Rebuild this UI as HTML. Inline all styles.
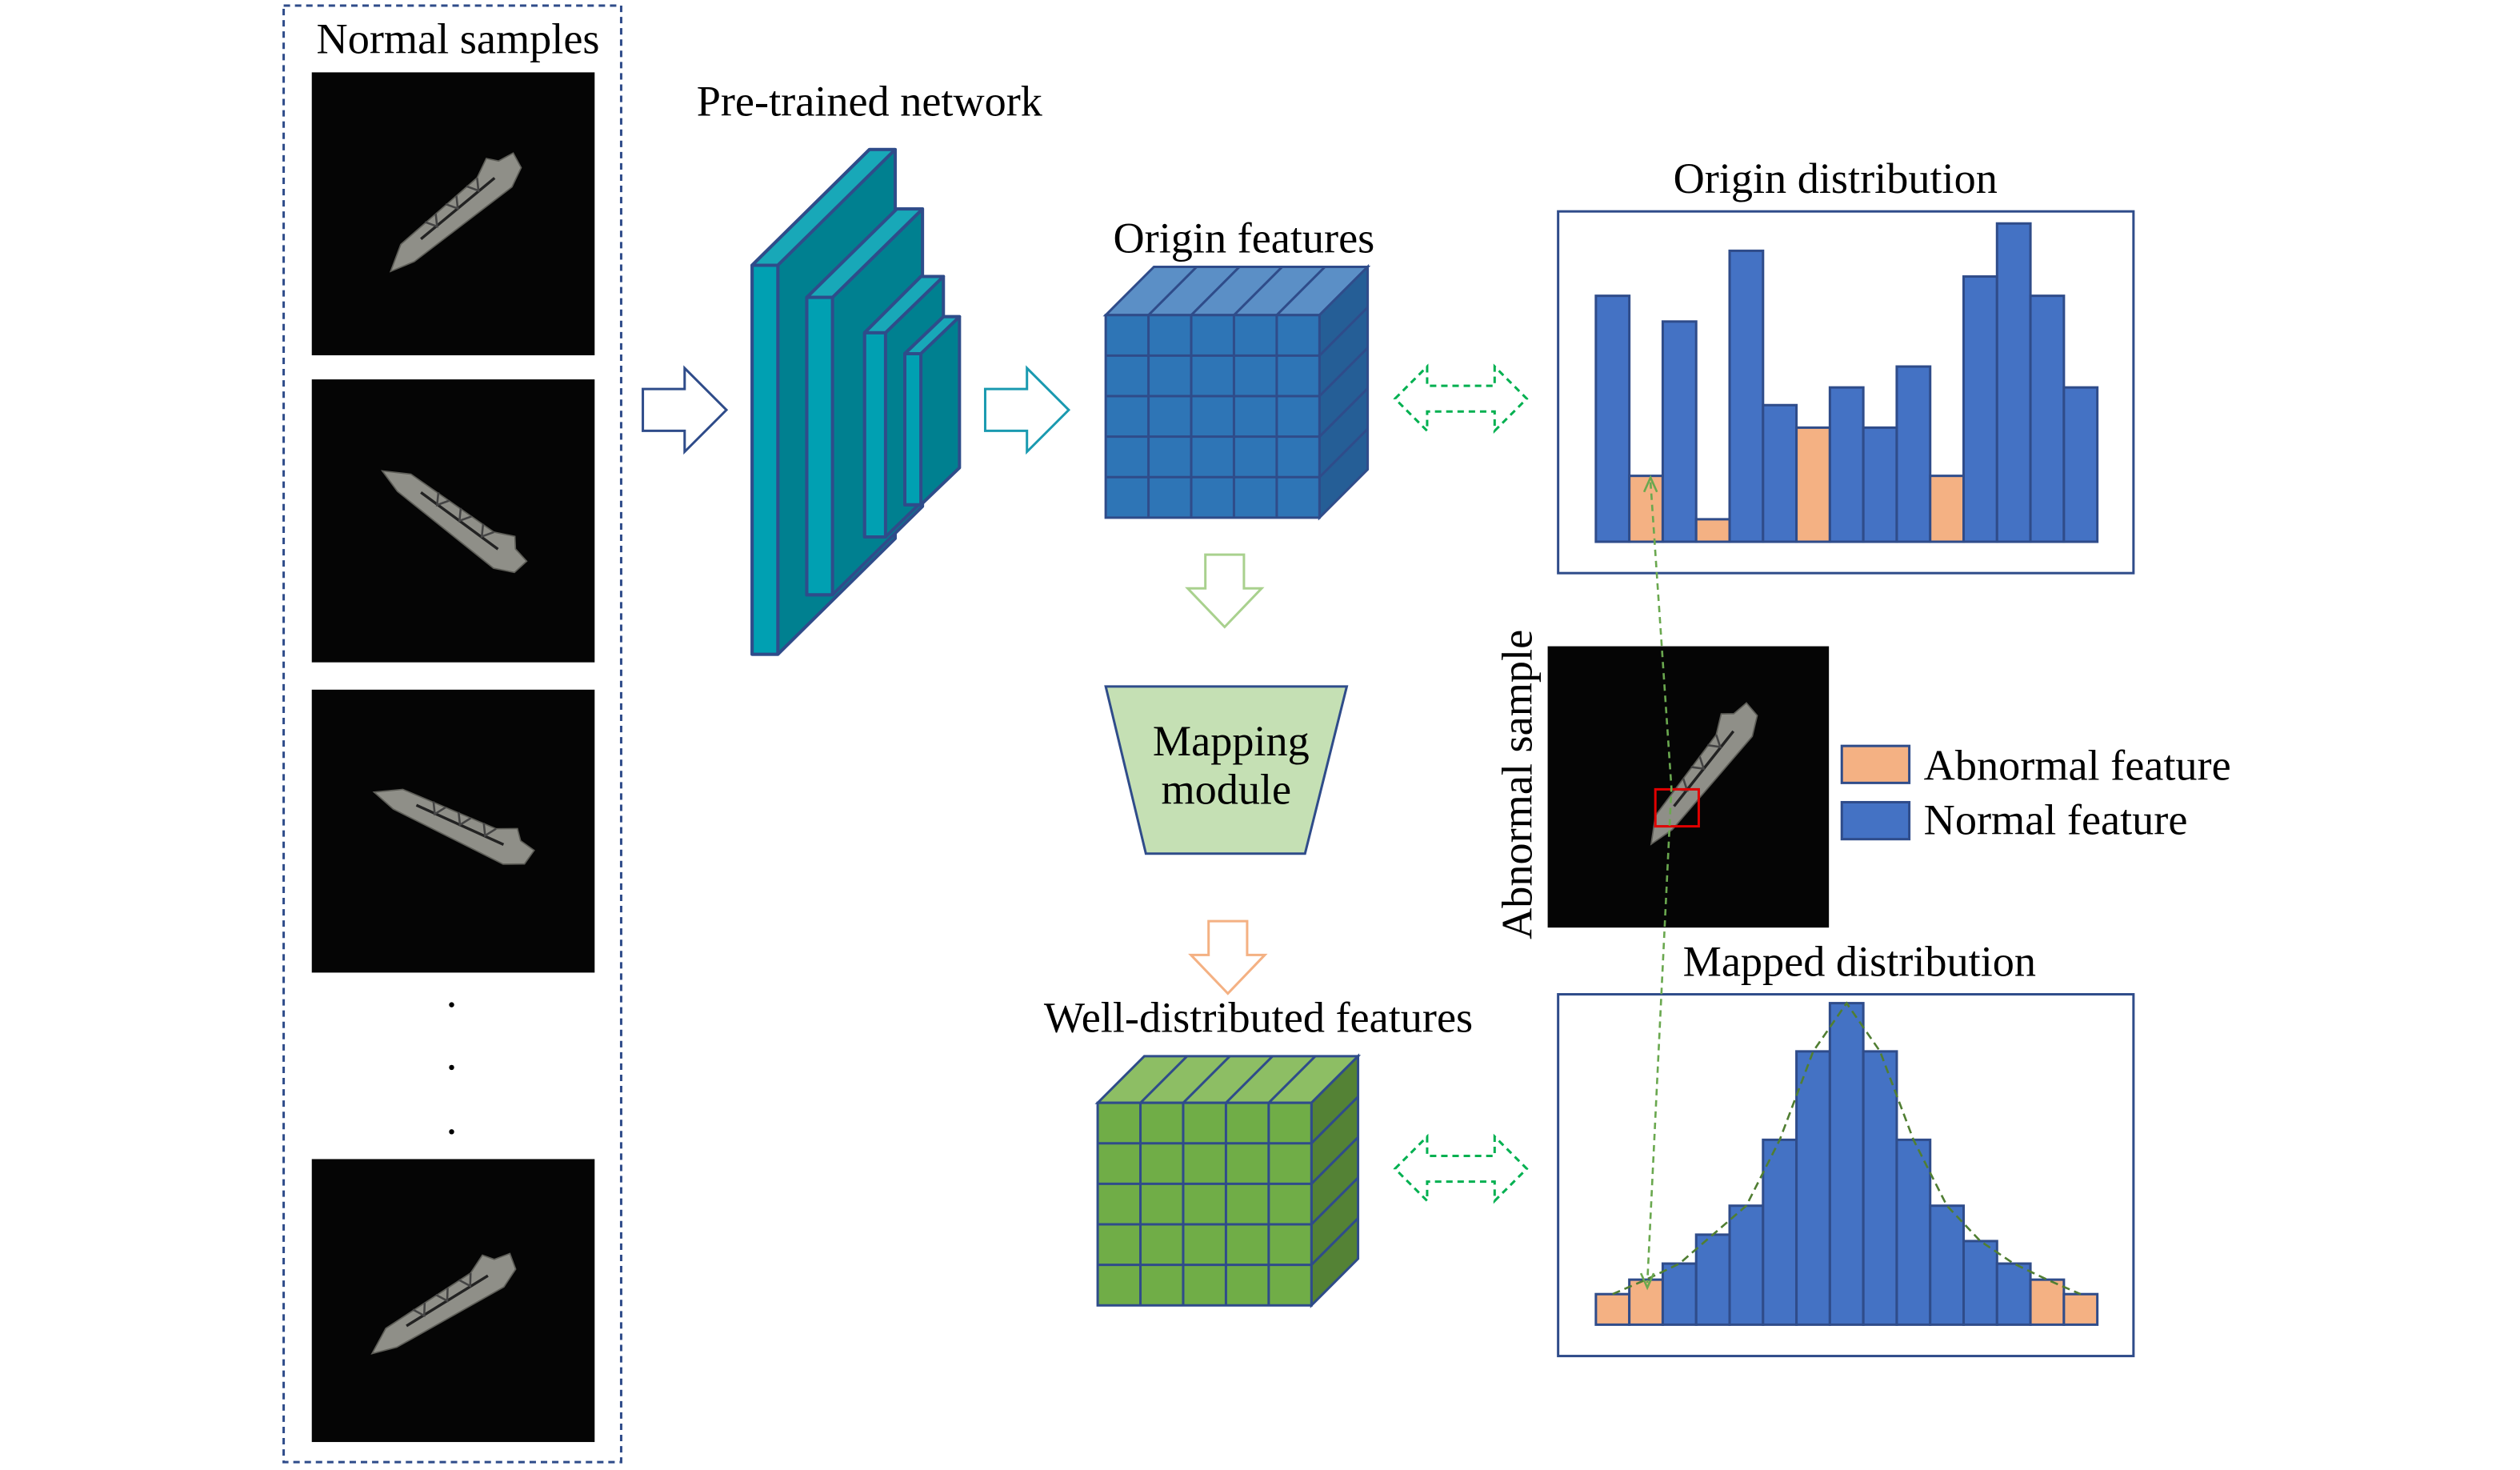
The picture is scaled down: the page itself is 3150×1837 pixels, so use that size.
<!DOCTYPE html>
<html><head><meta charset="utf-8"><style>
html,body{margin:0;padding:0;background:#fff;}
svg{display:block;}
text{font-family:"Liberation Serif",serif;fill:#000;}
</style></head><body>
<svg id="fig" width="3150" height="1837" viewBox="0 0 1568 914.4" preserveAspectRatio="none" xmlns="http://www.w3.org/2000/svg">
<defs>
<g id="screw">
<path d="M-62,5 L-44,-6 L30,-10 L44,-17 L50,-10 L62,-8 L60,4 L46,11 L-44,10 Z" fill="#8f8f88" stroke="#5e5e58" stroke-width="1"/>
<path d="M-30,0 L40,-2" stroke="#222" stroke-width="2"/>
<path d="M-20,-8 l5,8 l5,-8 M0,-9 l5,8 l5,-8 M20,-10 l5,8 l5,-8" stroke="#444" fill="none" stroke-width="1.5"/>
</g>
</defs>

<rect x="176.5" y="3.5" width="210" height="906" fill="none" stroke="#2F4C8A" stroke-width="1.5" stroke-dasharray="4,3"/>
<text x="285" y="33" font-size="27" text-anchor="middle">Normal samples</text>

<g><rect x="194" y="45" width="176" height="176" fill="#050505"/><use href="#screw" transform="translate(282,133) rotate(-38) scale(0.85)"/></g>
<g><rect x="194" y="236" width="176" height="176" fill="#050505"/><use href="#screw" transform="translate(282,322) rotate(38) scale(0.85)"/></g>
<g><rect x="194" y="429" width="176" height="176" fill="#050505"/><use href="#screw" transform="translate(282,512) rotate(26) scale(0.85)"/></g>
<g><rect x="194" y="721" width="176" height="176" fill="#050505"/><use href="#screw" transform="translate(275,812) rotate(-30) scale(0.85)"/></g>
<g fill="#000"><circle cx="281" cy="625" r="1.6"/><circle cx="281" cy="664" r="1.6"/><circle cx="281" cy="704" r="1.6"/></g>

<path d="M400,242 L426,242 L426,229 L452,255 L426,281 L426,268 L400,268 Z" fill="#fff" stroke="#2F4C8A" stroke-width="1.5"/>
<text x="541" y="72" font-size="27" text-anchor="middle">Pre-trained network</text>

<g stroke="#2F4C8A" stroke-width="2" stroke-linejoin="round">
<path d="M468,165 L541,93 L557,93 L557,335 L484,407 L468,407 Z" fill="#008090"/><path d="M468,165 L541,93 L557,93 L484,165 Z" fill="#18A8B8"/><rect x="468" y="165" width="16" height="242" fill="#00A0B2"/>
<path d="M502,185 L558,130 L574,130 L574,315 L518,370 L502,370 Z" fill="#008090"/><path d="M502,185 L558,130 L574,130 L518,185 Z" fill="#18A8B8"/><rect x="502" y="185" width="16" height="185" fill="#00A0B2"/>
<path d="M538,207 L573,172 L587,172 L587,299 L551,334 L538,334 Z" fill="#008090"/><path d="M538,207 L573,172 L587,172 L551,207 Z" fill="#18A8B8"/><rect x="538" y="207" width="13" height="127" fill="#00A0B2"/>
<path d="M563,220 L587,197 L597,197 L597,291 L573,314 L563,314 Z" fill="#008090"/><path d="M563,220 L587,197 L597,197 L573,220 Z" fill="#18A8B8"/><rect x="563" y="220" width="10" height="94" fill="#00A0B2"/>
</g>

<path d="M613,242 L639,242 L639,229 L665,255 L639,281 L639,268 L613,268 Z" fill="#fff" stroke="#1A9AB0" stroke-width="1.5"/>
<text x="774" y="157" font-size="27" text-anchor="middle">Origin features</text>
<g id="cube1"></g>

<path d="M750,345 L774,345 L774,366 L785,366 L762,390 L739,366 L750,366 Z" fill="#fff" stroke="#A9D18E" stroke-width="1.5"/>
<path d="M688,427 L838,427 L812,531 L713,531 Z" fill="#C5E0B4" stroke="#2F4C8A" stroke-width="1.5"/>
<text x="766" y="470" font-size="27" text-anchor="middle">Mapping</text>
<text x="763" y="500" font-size="27" text-anchor="middle">module</text>
<path d="M752,573 L776,573 L776,594 L787,594 L764,618 L741,594 L752,594 Z" fill="#fff" stroke="#F4B183" stroke-width="1.5"/>
<text x="783" y="642" font-size="27" text-anchor="middle">Well-distributed features</text>
<g id="cube2"></g>

<g><path d="M868,248 L888,228 L888,240 L930,240 L930,228 L950,248 L930,268 L930,256 L888,256 L888,268 Z" fill="none" stroke="#00B050" stroke-width="1.5" stroke-dasharray="4,3"/></g>
<g><path d="M868,727 L888,707 L888,719 L930,719 L930,707 L950,727 L930,747 L930,735 L888,735 L888,747 Z" fill="none" stroke="#00B050" stroke-width="1.5" stroke-dasharray="4,3"/></g>

<text x="1142" y="120" font-size="27" text-anchor="middle">Origin distribution</text>
<rect x="969.5" y="131.5" width="358" height="225" fill="#fff" stroke="#2F4C8A" stroke-width="1.5"/>
<g id="bars1"></g>

<text x="1157" y="607" font-size="27" text-anchor="middle">Mapped distribution</text>
<rect x="969.5" y="618.5" width="358" height="225" fill="#fff" stroke="#2F4C8A" stroke-width="1.5"/>
<g id="bars2"></g>
<path id="curve" fill="none" stroke="#507E32" stroke-width="1.3" stroke-dasharray="5,3"/>

<g><rect x="963" y="402" width="175" height="175" fill="#050505"/><use href="#screw" transform="translate(1058,482) rotate(-50) scale(0.85)"/>
<rect x="1030" y="491" width="27" height="23" fill="none" stroke="#E00000" stroke-width="1.5"/></g>
<text x="0" y="0" font-size="27" text-anchor="middle" transform="translate(953,488) rotate(-90)">Abnormal sample</text>

<path d="M1027,300 L1040,490 L1025,798" fill="none" stroke="#6AA84F" stroke-width="1.3" stroke-dasharray="4,3"/>
<path d="M1023,306 L1027,297 L1031,306 M1021,792 L1025,801 L1029,792" fill="none" stroke="#6AA84F" stroke-width="1.3"/>

<g>
<rect x="1146" y="464" width="42" height="23" fill="#F4B183" stroke="#2F4C8A" stroke-width="1.5"/>
<text x="1197" y="485" font-size="27">Abnormal feature</text>
<rect x="1146" y="499" width="42" height="23" fill="#4472C4" stroke="#2F4C8A" stroke-width="1.5"/>
<text x="1197" y="519" font-size="27">Normal feature</text>
</g>
</svg>
<script>
// Origin distribution: bar heights (px above baseline, display units) and abnormal flags
const originHeights = [153, 41, 137, 14, 181, 85, 71, 96, 71, 109, 41, 165, 198, 153, 96];
const originAbnormal = [0,1,0,1,0,0,1,0,0,0,1,0,0,0,0];
// Mapped distribution
const mappedHeights = [19, 28, 38, 56, 74, 115, 170, 200, 170, 115, 74, 52, 38, 28, 19];
const mappedAbnormal = [1,1,0,0,0,0,0,0,0,0,0,0,0,1,1];

const NS = 'http://www.w3.org/2000/svg';
function xScale(i){ return 993 + i * 20.8; }
function drawBars(gid, heights, abn, base, name){
  const g = document.getElementById(gid);
  heights.forEach((h, i) => {
    const r = document.createElementNS(NS, 'rect');
    r.setAttribute('x', xScale(i)); r.setAttribute('y', base - h);
    r.setAttribute('width', 20.8); r.setAttribute('height', h);
    r.setAttribute('fill', abn[i] ? '#F4B183' : '#4472C4');
    r.setAttribute('stroke', '#2F4C8A'); r.setAttribute('stroke-width', '1.5');
    
    
    g.appendChild(r);
  });
}
drawBars('bars1', originHeights, originAbnormal, 337, 'origin');
drawBars('bars2', mappedHeights, mappedAbnormal, 824, 'mapped');
let d = '';
mappedHeights.forEach((h, i) => { d += (i ? ' L' : 'M') + (xScale(i) + 10.4) + ',' + (824 - h); });
document.getElementById('curve').setAttribute('d', d);

function drawCube(gid, x, y, w, h, dp, front, top, side){
  const g = document.getElementById(gid);
  const add = (tag, attrs) => { const e = document.createElementNS(NS, tag); for (const k in attrs) e.setAttribute(k, attrs[k]); g.appendChild(e); return e; };
  const st = {stroke:'#2F4C8A','stroke-width':'1.5'};
  add('path', Object.assign({d:`M${x},${y} L${x+dp},${y-dp} L${x+w+dp},${y-dp} L${x+w},${y} Z`, fill:top}, st));
  add('path', Object.assign({d:`M${x+w},${y} L${x+w+dp},${y-dp} L${x+w+dp},${y+h-dp} L${x+w},${y+h} Z`, fill:side}, st));
  add('rect', Object.assign({x:x, y:y, width:w, height:h, fill:front}, st));
  for (let k = 1; k < 5; k++) {
    const cx = x + w*k/5, cy = y + h*k/5;
    add('line', Object.assign({x1:cx, y1:y, x2:cx, y2:y+h}, st));
    add('line', Object.assign({x1:x, y1:cy, x2:x+w, y2:cy}, st));
    add('line', Object.assign({x1:cx, y1:y, x2:cx+dp, y2:y-dp}, st));
    add('line', Object.assign({x1:x+w, y1:cy, x2:x+w+dp, y2:cy-dp}, st));
  }
}
drawCube('cube1', 688, 196, 133, 126, 30, '#2E75B6', '#5B8FC6', '#255E96');
drawCube('cube2', 683, 686, 133, 126, 29, '#70AD47', '#8DBE64', '#548235');
</script>
</body></html>
